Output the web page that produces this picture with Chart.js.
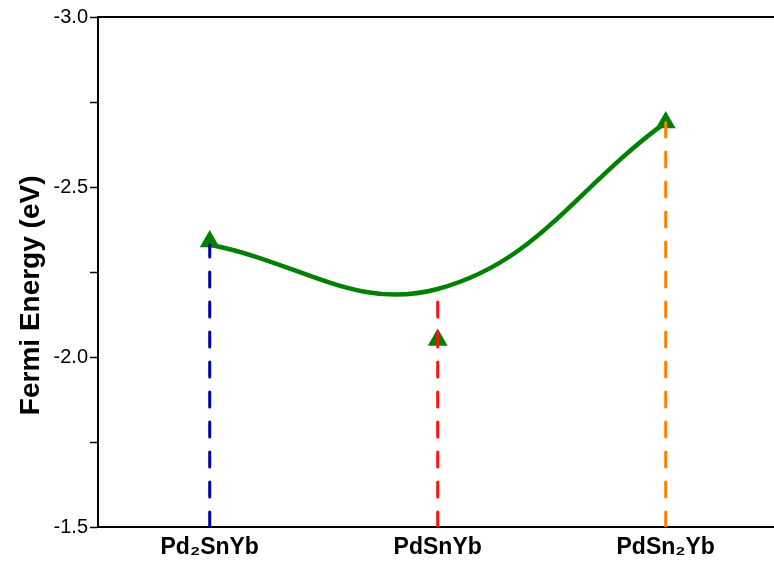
<!DOCTYPE html>
<html>
<head>
<meta charset="utf-8">
<script src="https://cdn.jsdelivr.net/npm/chart.js@4/dist/chart.umd.min.js"></script>
<style>
  html, body { margin: 0; padding: 0; background: #fff; }
  #wrap { width: 774px; height: 562px; }
</style>
</head>
<body>
<div id="wrap"><canvas id="fermiChart"></canvas></div>
<script>
const compounds = ['Pd\u2082SnYb', 'PdSnYb', 'PdSn\u2082Yb'];
const positions = [0, 1, 2];
const curveEnergy = [-2.33, -2.2, -2.69];
const markerEnergy = [-2.34, -2.05, -2.69];
const dropColors = ['#0000aa', '#ff1010', '#ff8000'];
const yTicks = [-3.0, -2.5, -2.0, -1.5];

const green = '#008000';
const base = -1.5;

// vertical dashed drops from the axis up to the curve
let drops = [];
for (let i = 0; i < positions.length; i++) {
    drops.push({
        data: [{ x: positions[i], y: base }, { x: positions[i], y: curveEnergy[i] }],
        borderColor: dropColors[i],
        borderWidth: 3,
        borderDash: [15, 15],
        borderCapStyle: 'round',
        pointRadius: 0,
        tension: 0,
        order: 0
    });
}

const frameTop = {
    id: 'frame_top',
    afterDraw: (chart) => {
        const { top, left, right } = chart.chartArea;
        const ctx = chart.ctx;
        ctx.save();
        ctx.strokeStyle = '#000';
        ctx.lineWidth = 2;
        ctx.beginPath();
        ctx.moveTo(left - 1, top);
        ctx.lineTo(right, top);
        ctx.stroke();
        ctx.restore();
    }
};

const data = {
    datasets: drops.concat([
        {
            data: positions.map((p, i) => ({ x: p, y: markerEnergy[i] })),
            showLine: false,
            pointStyle: 'triangle',
            pointRadius: 11.5,
            pointBackgroundColor: green,
            pointBorderColor: green,
            pointBorderWidth: 0,
            order: 1
        },
        {
            data: positions.map((p, i) => ({ x: p, y: curveEnergy[i] })),
            borderColor: green,
            borderWidth: 4.5,
            pointRadius: 0,
            tension: 0.4,
            order: 2
        }
    ])
};

const config = {
    type: 'line',
    data: data,
    options: {
        responsive: true,
        maintainAspectRatio: false,
        animation: false,
        layout: { autoPadding: false, padding: { top: 17, right: 0, left: 0, bottom: 0 } },
        plugins: {
            legend: { display: false },
            tooltip: { enabled: false }
        },
        scales: {
            x: {
                type: 'linear',
                min: -0.49,
                max: 2.475,
                afterFit: (scale) => {
                    scale.height = 35;
                    scale.paddingLeft = 0;
                    scale.paddingRight = 0;
                },
                afterBuildTicks: (scale) => { scale.ticks = positions.map(v => ({ value: v })); },
                grid: { display: true, drawOnChartArea: false, drawTicks: false },
                border: { display: true, color: '#000', width: 2 },
                ticks: {
                    padding: 7,
                    color: '#000',
                    font: { family: 'Liberation Sans, Arial, sans-serif', size: 23, weight: 'bold' },
                    callback: (v) => compounds[positions.indexOf(v)] || ''
                }
            },
            y: {
                type: 'linear',
                reverse: true,
                min: -3.0,
                max: -1.5,
                afterFit: (scale) => { scale.width = 98; },
                grid: { drawOnChartArea: false, drawTicks: true, tickLength: 8, color: '#000', tickWidth: 1.5 },
                border: { display: true, color: '#000', width: 2 },
                ticks: {
                    stepSize: 0.25,
                    padding: 2,
                    color: '#000',
                    font: { family: 'Liberation Sans, Arial, sans-serif', size: 20 },
                    callback: (v) => yTicks.some(t => Math.abs(t - v) < 1e-9) ? v.toFixed(1) : ''
                },
                title: {
                    display: true,
                    text: 'Fermi Energy (eV)      ',
                    color: '#000',
                    padding: { top: 14, bottom: 0 },
                    font: { family: 'Liberation Sans, Arial, sans-serif', size: 28, weight: 'bold' }
                }
            }
        }
    },
    plugins: [frameTop]
};

const fermiChart = new Chart(document.getElementById('fermiChart').getContext('2d'), config);
</script>
</body>
</html>
